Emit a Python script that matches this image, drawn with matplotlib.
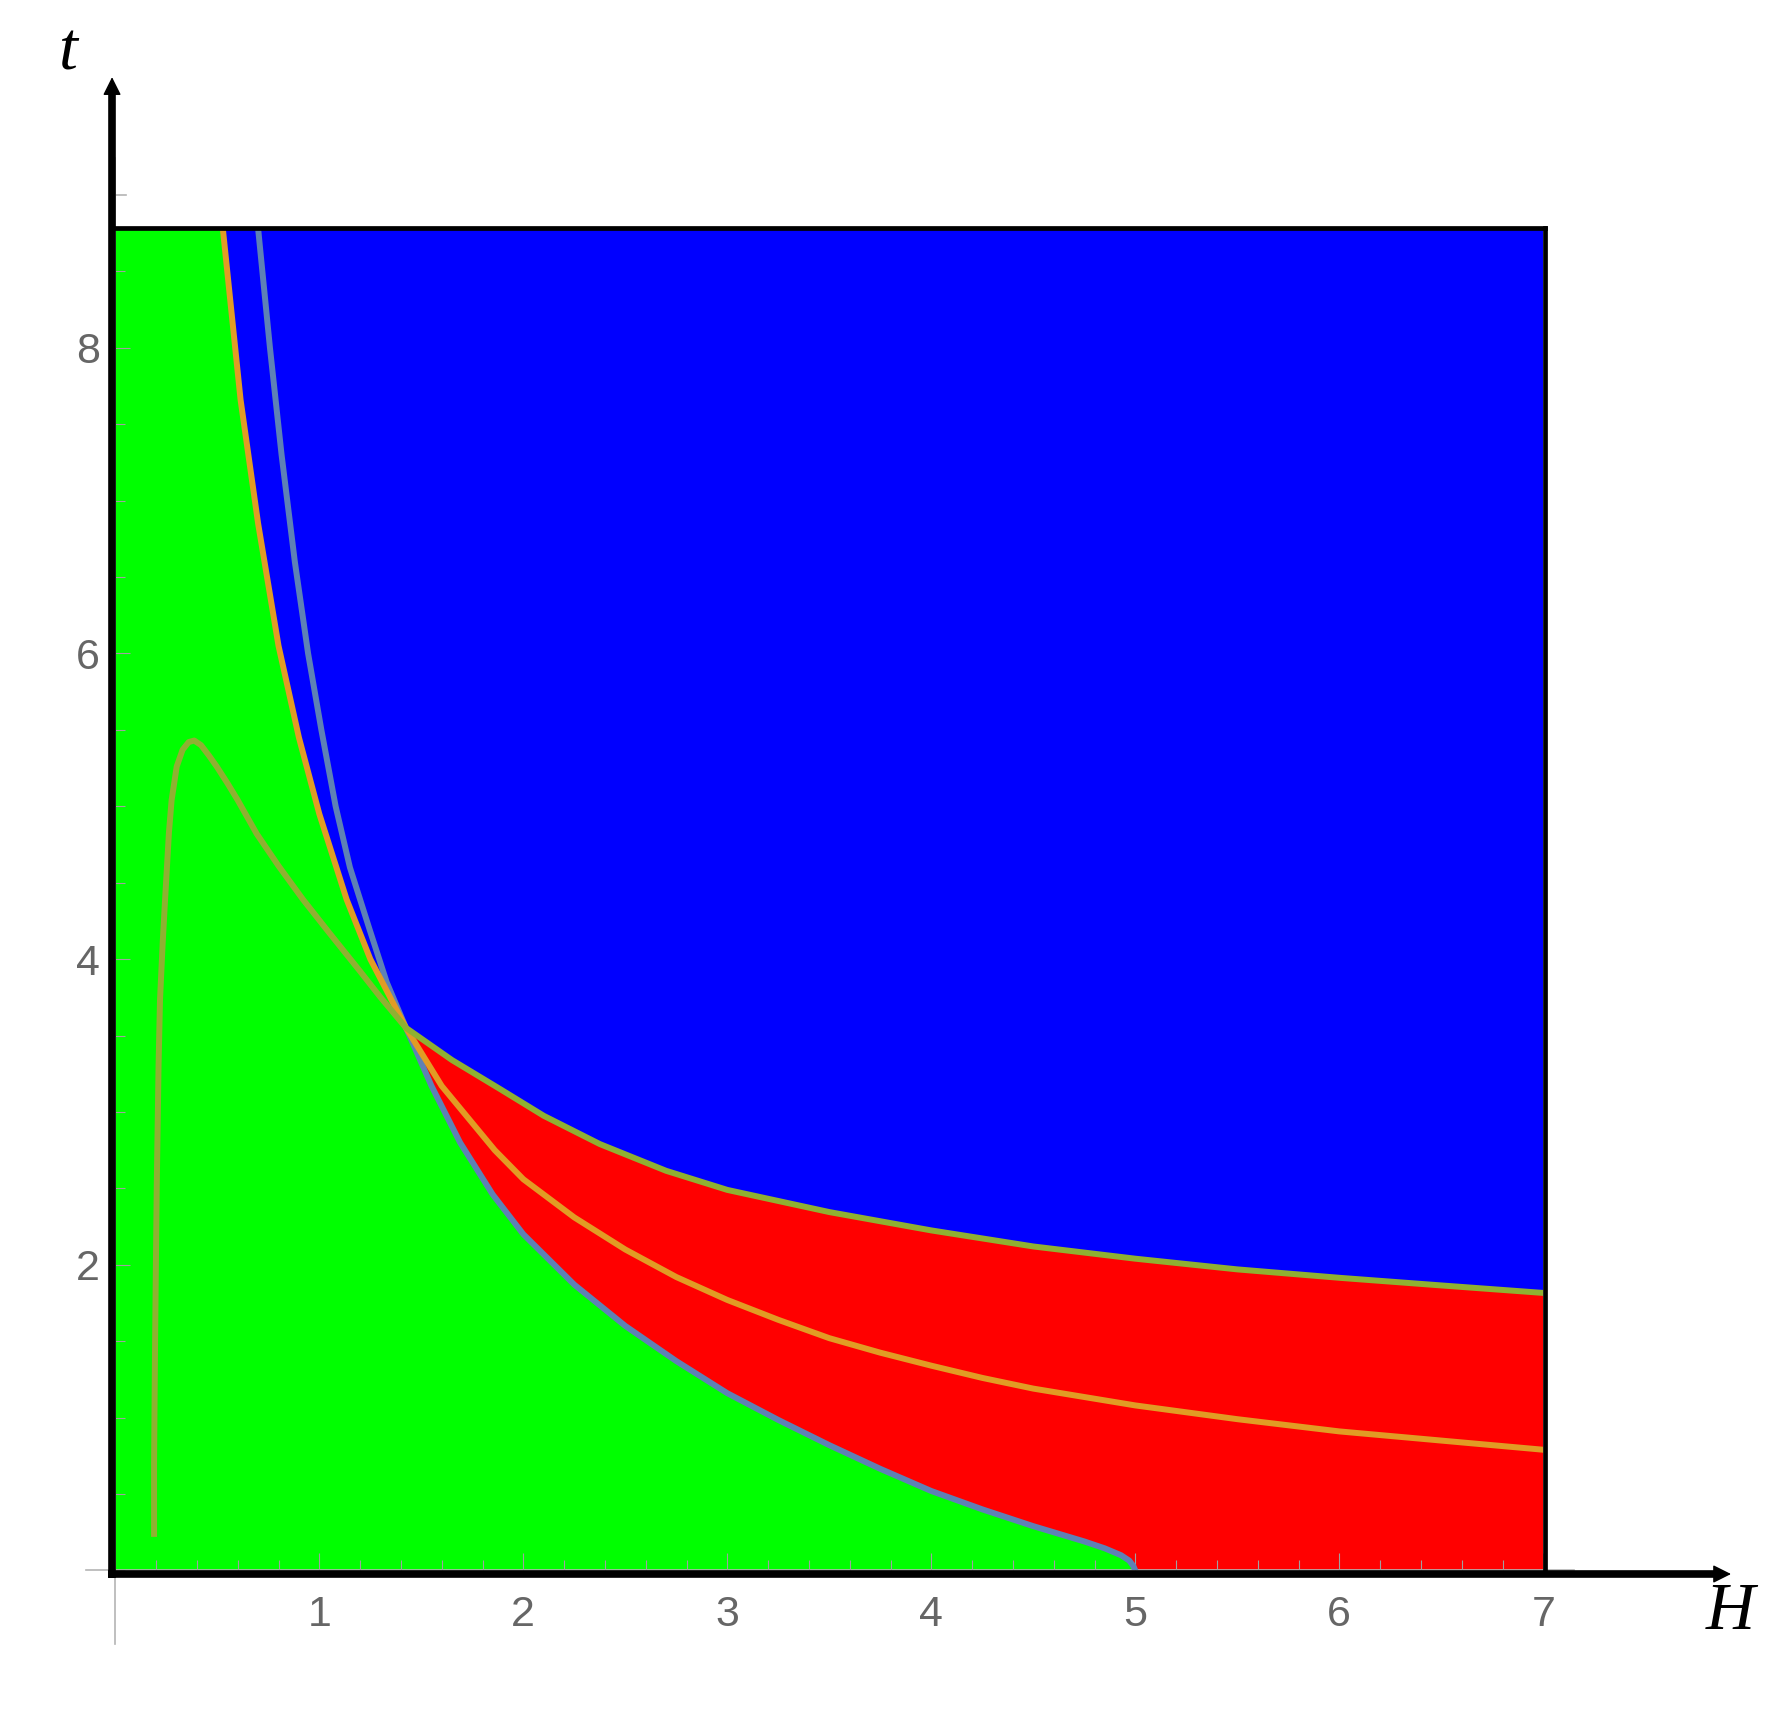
# -*- coding: utf-8 -*-
# Phase diagram in the (H, t) plane: three regions and three boundary curves
import matplotlib
matplotlib.use('Agg')
import matplotlib.pyplot as plt
from matplotlib.ticker import MultipleLocator

# ------------------------------
# data
# ------------------------------
H_MAX = 7.0
T_MAX = 8.78

# steel-blue curve, above the crossing point (top -> crossing)
sb_up_H = [0.700, 0.758, 0.815, 0.880, 0.945, 1.010, 1.080, 1.150, 1.245, 1.330, 1.425]
sb_up_t = [8.78, 8.00, 7.30, 6.60, 6.00, 5.50, 5.00, 4.60, 4.20, 3.85, 3.55]
# steel-blue curve, below the crossing point (crossing -> H axis)
sb_lo_H = [1.425, 1.55, 1.69, 1.85, 2.0, 2.25, 2.5, 2.75, 3.0, 3.25, 3.5, 3.75, 4.0,
           4.25, 4.5, 4.6, 4.75, 4.85, 4.93, 4.97, 4.99, 5.0]
sb_lo_t = [3.55, 3.17, 2.80, 2.46, 2.20, 1.87, 1.60, 1.37, 1.16, 0.985, 0.82, 0.665, 0.52,
           0.40, 0.29, 0.25, 0.19, 0.145, 0.10, 0.065, 0.03, 0.0]

# orange curve, top -> crossing -> right edge
or_up_H = [0.527, 0.614, 0.70, 0.80, 0.90, 1.00, 1.134, 1.25, 1.425]
or_up_t = [8.78, 7.66, 6.85, 6.05, 5.45, 4.95, 4.39, 4.00, 3.55]
or_lo_H = [1.425, 1.60, 1.86, 2.0, 2.25, 2.5, 2.75, 3.0, 3.25, 3.5, 3.75, 4.0, 4.25, 4.5,
           5.0, 5.5, 6.0, 6.5, 7.0]
or_lo_t = [3.55, 3.17, 2.75, 2.56, 2.31, 2.10, 1.92, 1.77, 1.64, 1.52, 1.425, 1.34, 1.26,
           1.19, 1.08, 0.99, 0.91, 0.85, 0.79]

# olive curve, foot -> peak -> crossing -> right edge
ol_up_H = [0.19, 0.19, 0.195, 0.203, 0.212, 0.219, 0.232, 0.244, 0.263, 0.276, 0.301,
           0.33, 0.36, 0.387, 0.42, 0.46, 0.497, 0.55, 0.60, 0.693, 0.80, 0.92, 1.05,
           1.2, 1.3, 1.425]
ol_up_t = [0.22, 0.70, 1.50, 2.50, 3.30, 3.73, 4.10, 4.39, 4.83, 5.04, 5.26,
           5.37, 5.42, 5.43, 5.40, 5.33, 5.26, 5.15, 5.04, 4.82, 4.61, 4.39, 4.17,
           3.92, 3.75, 3.55]
ol_lo_H = [1.425, 1.65, 1.886, 2.1, 2.375, 2.7, 3.0, 3.5, 4.0, 4.5, 5.0, 5.5, 6.0, 6.5, 7.0]
ol_lo_t = [3.55, 3.34, 3.15, 2.975, 2.79, 2.615, 2.49, 2.345, 2.225, 2.12, 2.04, 1.97,
           1.915, 1.865, 1.816]

x_ticks = [1, 2, 3, 4, 5, 6, 7]
y_ticks = [2, 4, 6, 8]

# ------------------------------
# figure
# ------------------------------
fig = plt.figure(figsize=(17.88, 17.22), dpi=100)
ax = fig.add_axes([0.06449, 0.08798, 0.79866, 0.77933])
ax.set_xlim(0, H_MAX)
ax.set_ylim(0, T_MAX)

green, blue, red = '#00ff00', '#0000ff', '#ff0000'
c_sb, c_or, c_ol = '#5e81b5', '#e19c24', '#8fb032'

# regions: blue everywhere, then green (left of orange / below steel-blue) and red
ax.fill([0, H_MAX, H_MAX, 0], [0, 0, T_MAX, T_MAX], color=blue, lw=0, zorder=0)
gx = [0, 0] + or_up_H + sb_lo_H[1:]
gy = [0, T_MAX] + or_up_t + sb_lo_t[1:]
ax.fill(gx, gy, color=green, lw=0, zorder=0.5)
rx = sb_lo_H + [H_MAX] + ol_lo_H[::-1]
ry = sb_lo_t + [0] + ol_lo_t[::-1]
ax.fill(rx, ry, color=red, lw=0, zorder=0.5)

# curves
lw = 4.3
ax.plot(sb_up_H + sb_lo_H[1:], sb_up_t + sb_lo_t[1:], color=c_sb, lw=lw, zorder=2)
ax.plot(or_up_H + or_lo_H[1:], or_up_t + or_lo_t[1:], color=c_or, lw=lw, zorder=2.1)
ax.plot(ol_up_H + ol_lo_H[1:], ol_up_t + ol_lo_t[1:], color=c_ol, lw=lw, zorder=2.2,
        solid_capstyle='butt')

# ticks (inside, grey, like the original frame ticks)
for s in ax.spines.values():
    s.set_visible(False)
ax.set_xticks(x_ticks)
ax.set_yticks(y_ticks)
ax.xaxis.set_minor_locator(MultipleLocator(0.2))
ax.yaxis.set_minor_locator(MultipleLocator(0.5))
ax.tick_params(axis='x', which='major', direction='in', length=12.2, width=0.8,
               color='#a0a0a0', pad=17.5, labelsize=31, labelcolor='#666666')
ax.tick_params(axis='y', which='major', direction='in', length=10.8, width=0.8,
               color='#a0a0a0', pad=11, labelsize=31, labelcolor='#666666')
ax.tick_params(which='minor', direction='in', length=7.2, width=0.8, color='#a0a0a0')
for lab in ax.get_xticklabels() + ax.get_yticklabels():
    lab.set_fontfamily('Liberation Sans')

# grey axes of the inner plot
ax.plot([-0.145, 7.15], [0, 0], color='#b4b4b4', lw=1.2, clip_on=False, zorder=1)
ax.plot([0, 0], [-0.48, 9.24], color='#b4b4b4', lw=1.2, clip_on=False, zorder=1)
ax.plot([0, 0.052], [9, 9], color='#b4b4b4', lw=1.2, clip_on=False, zorder=1)

# black box and arrow axes
ax.plot([0, H_MAX + 0.01], [T_MAX, T_MAX], color='k', lw=3.4, clip_on=False, zorder=3)
ax.plot([H_MAX + 0.01, H_MAX + 0.01], [0, T_MAX], color='k', lw=3.4, clip_on=False, zorder=3)
ax.plot([-0.034, 7.86], [-0.023, -0.023], color='k', lw=5.5, clip_on=False, zorder=3,
        solid_capstyle='butt')
ax.plot([-0.016, -0.016], [-0.047, 9.70], color='k', lw=5.5, clip_on=False, zorder=3,
        solid_capstyle='butt')
ax.annotate('', xy=(7.92, -0.023), xytext=(7.80, -0.023), annotation_clip=False,
            arrowprops=dict(arrowstyle='-|>', color='k', lw=1, mutation_scale=28,
                            shrinkA=0, shrinkB=0))
ax.annotate('', xy=(-0.016, 9.77), xytext=(-0.016, 9.62), annotation_clip=False,
            arrowprops=dict(arrowstyle='-|>', color='k', lw=1, mutation_scale=28,
                            shrinkA=0, shrinkB=0))

ax.text(7.915, -0.275, 'H', fontsize=49, fontstyle='italic', family='Liberation Serif',
        ha='center', va='center', clip_on=False)
ax.text(-0.233, 9.93, 't', fontsize=49, fontstyle='italic', family='Liberation Serif',
        ha='center', va='center', clip_on=False)

fig.savefig('out.png', dpi=100)
